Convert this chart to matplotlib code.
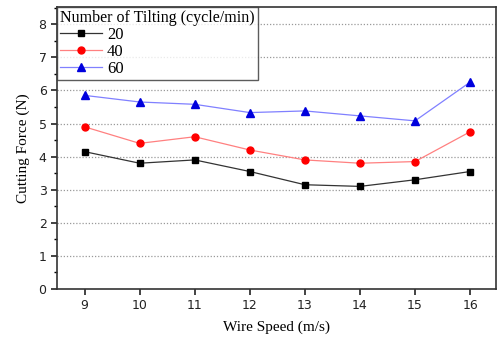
import matplotlib
matplotlib.use("Agg")
import matplotlib.pyplot as plt
from matplotlib.ticker import MultipleLocator

speed = [9, 10, 11, 12, 13, 14, 15, 16]
f20 = [4.15, 3.80, 3.90, 3.55, 3.15, 3.10, 3.30, 3.55]
f40 = [4.90, 4.40, 4.60, 4.20, 3.90, 3.80, 3.85, 4.75]
f60 = [5.85, 5.65, 5.58, 5.33, 5.38, 5.23, 5.08, 6.25]

fig = plt.figure(figsize=(4.99, 3.39), dpi=100)
ax = fig.add_axes([57/499, 1-289/339, (496-57)/499, (289-7)/339])

ax.plot(speed, f20, color="#333333", lw=0.9, marker="s", ms=4.5, mfc="black", mec="black", label="20")
ax.plot(speed, f40, color="#ff8080", lw=0.9, marker="o", ms=5, mfc="red", mec="red", label="40")
ax.plot(speed, f60, color="#8080ff", lw=0.9, marker="^", ms=5.5, mfc="#0000dd", mec="#0000dd", label="60")

ax.set_xlim(8.5, 16.47)
ax.set_ylim(0, 8.52)
ax.set_xticks(speed)
ax.yaxis.set_major_locator(MultipleLocator(1))
ax.yaxis.set_minor_locator(MultipleLocator(0.5))
for y in range(1, 9):
    ax.axhline(y, color="#999999", lw=0.9, ls=(0, (1, 1.5)), zorder=0)
ax.tick_params(axis="both", labelsize=9, colors="#222222", length=4, width=1.2)
ax.tick_params(axis="y", which="minor", length=2, width=1)
ax.tick_params(top=False, right=False)
for s in ax.spines.values():
    s.set_linewidth(1.2)
    s.set_color("#333333")

ax.set_xlabel("Wire Speed (m/s)", family="Liberation Serif", fontsize=11, labelpad=6)
ax.set_ylabel("Cutting Force (N)", family="Liberation Serif", fontsize=11, labelpad=6)

leg = ax.legend(title="Number of Tilting (cycle/min)", loc="upper left",
                prop={"family": "Liberation Serif", "size": 12},
                title_fontproperties={"family": "Liberation Serif", "size": 11.5},
                frameon=True, fancybox=False, edgecolor="#333333",
                borderaxespad=0, handlelength=2.5, labelspacing=0.05,
                borderpad=0.2, handletextpad=0.3)
leg.get_frame().set_linewidth(1.0)
leg._legend_box.align = "left"

fig.savefig("out.png", dpi=100)
